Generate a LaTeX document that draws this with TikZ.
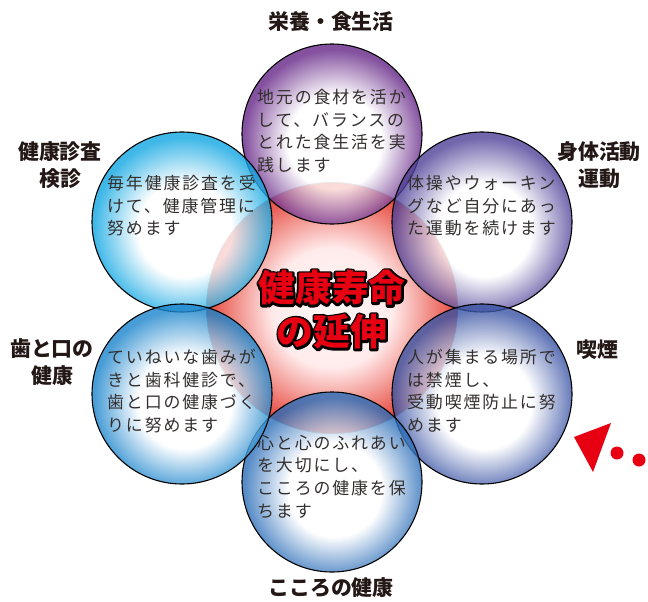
\documentclass[tikz,border=0pt]{standalone}
\usepackage{fontspec}
\setmainfont{Noto Sans CJK JP}
\newfontfamily\bodyfont[LetterSpace=11]{Noto Sans CJK JP}
\definecolor{labelcol}{HTML}{231815}
\definecolor{bodycol}{HTML}{332F2E}
\definecolor{titlered}{HTML}{E60012}
\definecolor{cPurple}{HTML}{652587}
\definecolor{cViolet}{HTML}{4F4198}
\definecolor{cIndigo}{HTML}{3953A4}
\definecolor{cBlue}{HTML}{2A6DB8}
\definecolor{cSky}{HTML}{1A84CC}
\definecolor{cCyan}{HTML}{0FA6E2}
\definecolor{coreRed}{HTML}{E6453A}
\colorlet{ringcol}{blue}
\pgfdeclareradialshading[ringcol]{ring}{\pgfpoint{1bp}{-3bp}}{color(0bp)=(white); color(13bp)=(white); color(25bp)=(ringcol); color(50bp)=(ringcol)}
\pgfdeclareradialshading{core}{\pgfpoint{0bp}{0bp}}{color(0bp)=(white!97!red); color(12bp)=(white!92!red); color(25bp)=(coreRed); color(50bp)=(coreRed)}
\tikzset{
  ringcolor/.code={\colorlet{ringcol}{#1}},
  bubble/.style={circle, minimum size=180bp, inner sep=0, shade, shading=ring, ringcolor=#1, fill opacity=0.8, draw=black, draw opacity=1, line width=1.1bp},
  corecircle/.style={circle, minimum size=251bp, inner sep=0, shade, shading=core, draw=black!45, line width=0.8bp},
  bodytext/.style={anchor=north west, inner sep=0, align=left, text=bodycol, font=\bodyfont\fontsize{17}{22.7}\selectfont},
  labeltext/.style={align=center, inner sep=0, text=labelcol, font=\bfseries\fontsize{21}{27}\selectfont},
  titletext/.style={align=center, inner sep=0, font=\bfseries\fontsize{37}{44}\selectfont},
  redmark/.style={fill=titlered, draw=none}
}
\newcommand{\strokeon}{\special{pdf:code 2 Tr 4.2 w 1 j 0 0 0 RG}}
\newcommand{\strokeoff}{\special{pdf:code 0 Tr}}
\begin{document}
\begin{tikzpicture}[x=1bp, y=-1bp]
\useasboundingbox (0,0) rectangle (648,602);
% central circle
\node[corecircle] (core) at (332,308) {};
% outer circles
\node[bubble=cPurple] (cTop) at (332,134) {};
\node[bubble=cCyan] (cLT) at (182,222) {};
\node[bubble=cViolet] (cRT) at (482,222) {};
\node[bubble=cIndigo] (cRB) at (482,394) {};
\node[bubble=cBlue] (cBot) at (332,482) {};
\node[bubble=cSky] (cLB) at (182,394) {};
% title: black stroked copy behind, red fill on top
\node[titletext, text=black] (titleback) at (332,310) {\strokeon 健康寿命\\\strokeon の延伸\strokeoff};
\node[titletext, text=titlered] (title) at (332,310) {健康寿命\\の延伸};
% labels
\node[labeltext] (lTop) at (331,22) {栄養・食生活};
\node[labeltext] (lRT) at (599,165) {身体活動\\運動};
\node[labeltext] (lLT) at (60,165) {健康診査\\検診};
\node[labeltext] (lLB) at (52,362) {歯と口の\\健康};
\node[labeltext] (lRB) at (597,350) {喫煙};
\node[labeltext] (lBot) at (331,588) {こころの健康};
% body texts
\node[bodytext] (tTop) at (257,89) {地元の食材を活か\\して、バランスの\\とれた食生活を実\\践します};
\node[bodytext] (tRT) at (407,175) {体操やウォーキン\\グなど自分にあっ\\た運動を続けます};
\node[bodytext] (tLT) at (107,175) {毎年健康診査を受\\けて、健康管理に\\努めます};
\node[bodytext] (tLB) at (107,349) {ていねいな歯みが\\きと歯科健診で、\\歯と口の健康づく\\りに努めます};
\node[bodytext] (tRB) at (407,349) {人が集まる場所で\\は禁煙し、\\受動喫煙防止に努\\めます};
\node[bodytext] (tBot) at (257,435) {心と心のふれあい\\を大切にし、\\こころの健康を保\\ちます};
% red marker
\fill[redmark] (574,437) -- (611,423) -- (593,472) -- cycle;
\fill[redmark] (617,453) circle (6.5);
\fill[redmark] (639,460) circle (6.5);
\end{tikzpicture}
\end{document}
